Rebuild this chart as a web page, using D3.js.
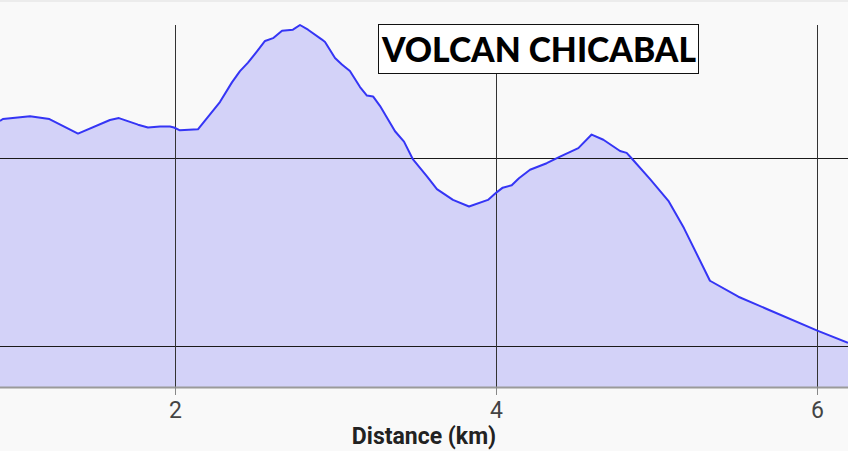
<!DOCTYPE html>
<html>
<head>
<meta charset="utf-8">
<script src="https://cdn.jsdelivr.net/npm/d3@7"></script>
<style>
  html, body { margin: 0; padding: 0; background: #f9f9f9; }
  svg { display: block; }
</style>
</head>
<body>
<svg id="chart" width="848" height="451"></svg>
<script>
const title = "VOLCAN CHICABAL";
const xLabel = "Distance (km)";
const xTicks = [2, 4, 6];
const yGrid = [2400, 2600];

const distanceKm = [0.910, 0.928, 1.097, 1.218, 1.396, 1.595, 1.651, 1.770, 1.832, 1.907,
  1.969, 1.994, 2.031, 2.143, 2.280, 2.355, 2.405, 2.455, 2.511, 2.561,
  2.611, 2.667, 2.735, 2.779, 2.829, 2.916, 2.935, 2.997, 3.040, 3.090,
  3.153, 3.196, 3.234, 3.277, 3.371, 3.427, 3.483, 3.570, 3.632, 3.732,
  3.832, 3.950, 4.004, 4.042, 4.098, 4.143, 4.212, 4.316, 4.399, 4.513,
  4.596, 4.669, 4.773, 4.814, 4.846, 4.960, 5.074, 5.171, 5.333, 5.510,
  5.687, 6.002, 6.193];
const elevationM = [2639, 2641, 2644, 2641, 2625.5, 2640, 2642, 2635, 2632, 2633,
  2633, 2632, 2629, 2630, 2659, 2680, 2692, 2701, 2713, 2724,
  2727, 2735, 2736, 2741, 2736, 2725.5, 2723, 2706, 2699, 2692,
  2675, 2666, 2665, 2655, 2628, 2617, 2598, 2580, 2566.5, 2555,
  2548, 2555, 2563, 2568, 2570.5, 2578, 2587, 2594, 2601, 2610,
  2624.5, 2619, 2607, 2605, 2599, 2577, 2554, 2525, 2469, 2452,
  2439, 2416, 2403];

const W = 848, H = 451;
const plotTop = 25, plotBottom = 387;
const data = distanceKm.map((d, i) => ({ d, e: elevationM[i] }));

const svg = d3.select("#chart");
svg.append("rect").attr("width", W).attr("height", H).attr("fill", "#f9f9f9");
svg.append("rect").attr("width", W).attr("height", 2).attr("fill", "#ececec");

const x = d3.scaleLinear().domain([0.91, 6.193]).range([0, W]);
const y = d3.scaleLinear().domain([2356, 2741]).range([plotBottom, plotTop]);

// area
svg.append("path").datum(data)
  .attr("fill", "#d3d2f8")
  .attr("d", d3.area().x(p => x(p.d)).y0(plotBottom).y1(p => y(p.e)));

// horizontal grid
const hg = svg.append("g")
  .call(d3.axisLeft(y).tickValues(yGrid).tickSize(-W).tickFormat(""));
hg.select(".domain").remove();
hg.selectAll(".tick").attr("transform", d => `translate(0,${Math.round(y(d)) + 0.5})`);
hg.selectAll(".tick line").attr("stroke", "#1a1a1a").attr("stroke-width", 1);

// vertical grid
const vg = svg.append("g").attr("transform", `translate(0,${plotBottom})`)
  .call(d3.axisBottom(x).tickValues(xTicks).tickSize(-(plotBottom - plotTop)).tickFormat(""));
vg.select(".domain").remove();
vg.selectAll(".tick").attr("transform", d => `translate(${Math.round(x(d)) + 0.5},0)`);
vg.selectAll(".tick line").attr("stroke", "#333").attr("stroke-width", 1);

// line
svg.append("path").datum(data)
  .attr("fill", "none")
  .attr("stroke", "#3535f5")
  .attr("stroke-width", 2)
  .attr("stroke-linejoin", "round")
  .attr("d", d3.line().x(p => x(p.d)).y(p => y(p.e)));

// x axis
const xa = svg.append("g").attr("transform", `translate(0,${plotBottom})`)
  .call(d3.axisBottom(x).tickValues(xTicks).tickSize(8).tickPadding(7).tickFormat(d3.format("d")));
xa.select(".domain").attr("stroke", "#9a9a9a").attr("stroke-width", 2)
  .attr("d", `M0,0.5H${W}`);
xa.selectAll(".tick").attr("transform", d => `translate(${Math.round(x(d)) + 0.5},0)`);
xa.selectAll(".tick line").attr("stroke", "#888");
xa.selectAll(".tick text")
  .attr("font-family", "Roboto, sans-serif")
  .attr("font-size", 23)
  .attr("fill", "#444");

svg.append("text")
  .attr("x", 424).attr("y", 444)
  .attr("text-anchor", "middle")
  .attr("font-family", "Roboto, sans-serif")
  .attr("font-weight", "bold")
  .attr("font-size", 23)
  .attr("fill", "#222")
  .text(xLabel);

// title box
const tg = svg.append("g");
tg.append("rect")
  .attr("x", 378.5).attr("y", 24.5).attr("width", 320).attr("height", 49)
  .attr("fill", "#ffffff").attr("stroke", "#111").attr("stroke-width", 1);
tg.append("text")
  .attr("x", 382).attr("y", 61.5)
  .attr("font-family", "Lato, sans-serif")
  .attr("font-weight", 900)
  .attr("font-size", 35)
  .attr("textLength", 314)
  .attr("lengthAdjust", "spacingAndGlyphs")
  .attr("fill", "#000")
  .text(title);
</script>
</body>
</html>
